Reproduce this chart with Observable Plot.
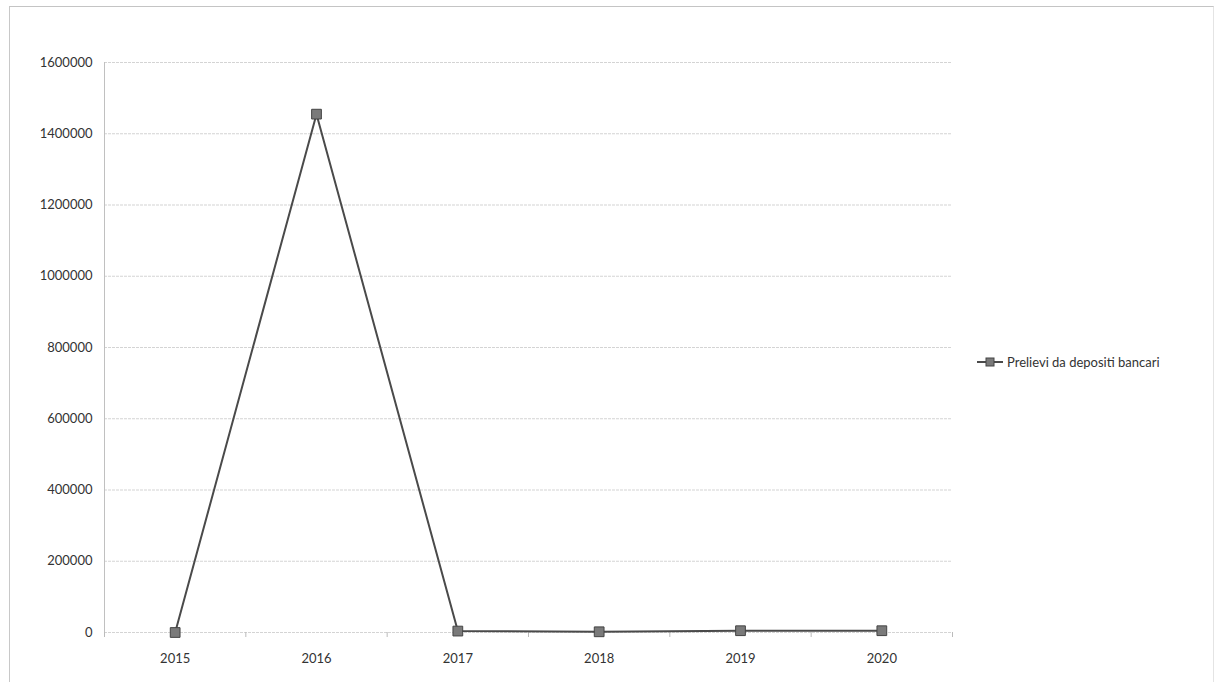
<!DOCTYPE html>
<html>
<head>
<meta charset="utf-8">
<script src="https://cdn.jsdelivr.net/npm/d3@7"></script>
<script src="https://cdn.jsdelivr.net/npm/@observablehq/plot@0.6"></script>
<style>
  html, body { margin: 0; padding: 0; background: #fff; }
  #wrap { position: relative; width: 1216px; height: 682px; overflow: hidden; font-family: Lato, "Open Sans", sans-serif; }
  #frame { position: absolute; left: 9px; top: 6px; width: 1203px; height: 700px; border-top: 1px solid #c4c4c4; border-left: 1px solid #c8c8c8; border-right: 1px solid #e4e4e4; }
  #legend { position: absolute; left: 977px; top: 354px; display: flex; align-items: center; font-size: 13px; color: #333; }
  #legend svg { margin-right: 4px; }
</style>
</head>
<body>
<div id="wrap">
  <div id="frame"></div>
  <div id="chart"></div>
  <div id="legend"></div>
</div>
<script>
const seriesName = "Prelievi da depositi bancari";
const years = [2015, 2016, 2017, 2018, 2019, 2020];
const values = [0, 1455000, 4000, 2000, 5000, 5000];
const yTicks = [0, 200000, 400000, 600000, 800000, 1000000, 1200000, 1400000, 1600000];
const boundaries = [2014.5, 2015.5, 2016.5, 2017.5, 2018.5, 2019.5, 2020.5];

const data = years.map((year, i) => ({year, value: values[i]}));

const chart = Plot.plot({
  width: 1216,
  height: 682,
  marginLeft: 104,
  marginRight: 264,
  marginTop: 62,
  marginBottom: 50,
  style: {fontFamily: "Lato, 'Open Sans', sans-serif", fontSize: "13px", color: "#333", background: "transparent"},
  x: {type: "linear", domain: [2014.5, 2020.5], label: null},
  y: {domain: [0, 1600000], label: null},
  marks: [
    Plot.gridY(yTicks, {stroke: "#b0b0b0", strokeOpacity: 0.55, strokeDasharray: "3,1"}),
    Plot.ruleX([2014.5], {stroke: "#c0c0c0"}),
    Plot.axisY(yTicks, {tickSize: 0, tickPadding: 12, tickFormat: d => String(d), fill: "#333", label: null}),
    Plot.axisX(boundaries, {tickSize: 5, tickFormat: () => "", stroke: "#bbb", label: null}),
    Plot.axisX(years, {tickSize: 0, tickPadding: 21, tickFormat: d => String(d), fill: "#333", label: null}),
    Plot.line(data, {x: "year", y: "value", stroke: "#4a4a4a", strokeWidth: 2}),
    Plot.dot(data, {x: "year", y: "value", symbol: "square", r: 5.5, fill: "#7a7a7a", stroke: "#444", strokeWidth: 1})
  ]
});
document.getElementById("chart").appendChild(chart);

const lg = document.getElementById("legend");
lg.innerHTML = `<svg width="26" height="12"><line x1="0" y1="6" x2="26" y2="6" stroke="#4a4a4a" stroke-width="2"/><rect x="9" y="2" width="8" height="8" fill="#7a7a7a" stroke="#444" stroke-width="1"/></svg><span>${seriesName}</span>`;
</script>
</body>
</html>
